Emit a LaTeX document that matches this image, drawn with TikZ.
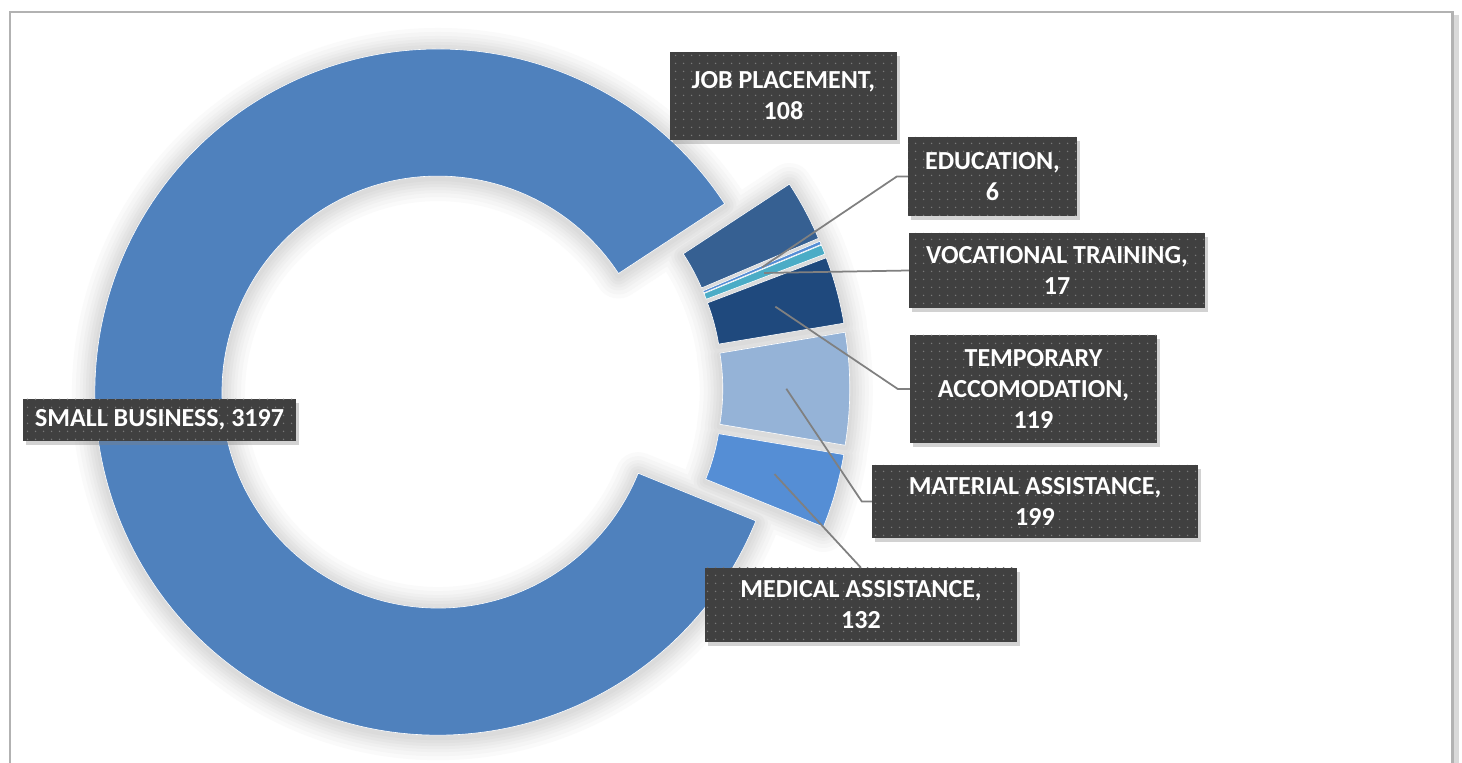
\documentclass[tikz,border=0pt]{standalone}
\usepackage{fontspec}
\setmainfont{Carlito}
\usetikzlibrary{shadows, patterns.meta}

\definecolor{sbblue}{HTML}{4F81BD}
\definecolor{jpblue}{HTML}{366092}
\definecolor{edublue}{HTML}{558ED5}
\definecolor{vocteal}{HTML}{4BACC6}
\definecolor{tempnavy}{HTML}{1F497D}
\definecolor{matblue}{HTML}{95B3D7}
\definecolor{medblue}{HTML}{558ED5}
\definecolor{boxgray}{HTML}{404040}

\tikzdeclarepattern{
  name=boxdots,
  bounding box={(0pt,0pt) and (8pt,8pt)},
  tile size={(8pt,8pt)},
  code={\fill (4pt,4pt) circle (0.9pt);}
}

\tikzset{
  databox/.style={fill=boxgray, text=white, align=center, inner sep=0pt,
    font=\bfseries\fontsize{26}{31}\selectfont,
    drop shadow={shadow xshift=3pt, shadow yshift=-4pt, opacity=0.35},
    postaction={pattern=boxdots, pattern color=white!30!boxgray}},
  leader/.style={draw=gray, line width=1.75pt},
  halo/.style={line join=round},
}

% from/to angle, colour, name
\def\slices{33.3/23.01/jpblue/jp, 23.01/22.44/edublue/edu, 22.44/20.82/vocteal/voc,
  20.82/9.48/tempnavy/temp, 9.48/-9.49/matblue/mat, -9.49/-22.06/medblue/med,
  -22.06/-326.7/sbblue/sb}

\begin{document}
\begin{tikzpicture}[x=1pt, y=1pt]
\useasboundingbox (0,0) rectangle (1462,763);
\fill[white] (0,0) rectangle (1462,763);

% chart frame
\draw[black, opacity=0.15, line width=5pt] (1456,748) -- (1456,-20);
\draw[gray!60, line width=2.5pt] (10,751) rectangle (1452.5,-20);

\begin{scope}[shift={(472.3,374.3)}]
% soft shadow, widest and lightest first
\foreach \w/\shade in {46/2,38/4,30/6,24/8,18/10,12/12,6/14} {
  \foreach \from/\to/\col/\nm in \slices {
    \pgfmathsetmacro{\midang}{(\from+\to)/2}
    \begin{scope}[shift={(\midang:34.5)}, yshift=-2pt]
      \draw[halo, black!\shade, line width=\w pt] (\from:343) arc[start angle=\from, end angle=\to, radius=343]
        -- (\to:216) arc[start angle=\to, end angle=\from, radius=216] -- cycle;
    \end{scope}
  }
}
% exploded slices
\foreach \from/\to/\col/\nm in \slices {
  \pgfmathsetmacro{\midang}{(\from+\to)/2}
  \begin{scope}[shift={(\midang:34.5)}]
    \fill[\col, draw=white, line width=0.6pt] (\from:343) arc[start angle=\from, end angle=\to, radius=343]
      -- (\to:216) arc[start angle=\to, end angle=\from, radius=216] -- cycle;
    \coordinate (pt-\nm) at (\midang:279.5);
  \end{scope}
}
\end{scope}

\node[databox, minimum width=227pt, minimum height=88pt] (jp) at (783.5,667) {JOB PLACEMENT,\\108};
\node[databox, minimum width=169pt, minimum height=79pt] (edu) at (992.5,586.5) {EDUCATION,\\6};
\node[databox, minimum width=296pt, minimum height=75pt] (voc) at (1057,492.5) {VOCATIONAL TRAINING,\\17};
\node[databox, minimum width=247pt, minimum height=108pt] (temp) at (1033.5,374) {TEMPORARY\\ACCOMODATION,\\119};
\node[databox, minimum width=326pt, minimum height=73pt] (mat) at (1035,261.5) {MATERIAL ASSISTANCE,\\199};
\node[databox, minimum width=312pt, minimum height=74pt] (med) at (861,158) {MEDICAL ASSISTANCE,\\132};
\node[databox, minimum width=273pt, minimum height=42pt] (sb) at (159.5,343) {SMALL BUSINESS, 3197};

\draw[leader] (pt-edu) -- ([xshift=-11pt]edu.west) -- (edu.west);
\draw[leader] (pt-voc) -- (voc.west);
\draw[leader] (pt-temp) -- ([xshift=-12pt]temp.west) -- (temp.west);
\draw[leader] (pt-mat) -- ([xshift=-10pt]mat.west) -- (mat.west);
\draw[leader] (pt-med) -- (med.north);
\end{tikzpicture}
\end{document}
